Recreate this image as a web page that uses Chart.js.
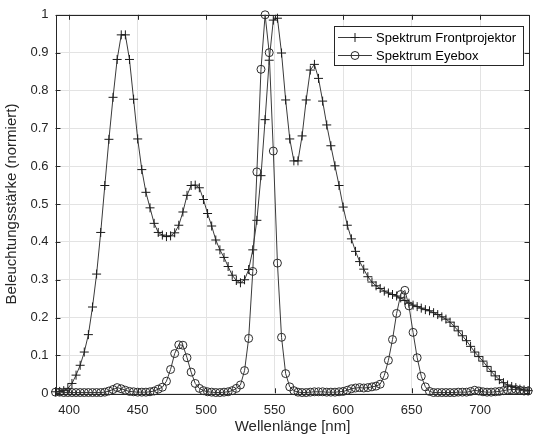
<!DOCTYPE html>
<html><head><meta charset="utf-8">
<script src="https://cdn.jsdelivr.net/npm/chart.js@4/dist/chart.umd.min.js"></script>
<style>html,body{margin:0;padding:0;background:#fff;overflow:hidden}</style>
</head><body>
<canvas id="c" width="535" height="442"></canvas>
<script>
const wavelengths = [390,393,396,399,402,405,408,411,414,417,420,423,426,429,432,435,438,441,444,447,450,453,456,459,462,465,468,471,474,477,480,483,486,489,492,495,498,501,504,507,510,513,516,519,522,525,528,531,534,537,540,543,546,549,552,555,558,561,564,567,570,573,576,579,582,585,588,591,594,597,600,603,606,609,612,615,618,621,624,627,630,633,636,639,642,645,648,651,654,657,660,663,666,669,672,675,678,681,684,687,690,693,696,699,702,705,708,711,714,717,720,723,726,729,732,735];

const frontprojektor = [
0.004,0.005,0.007,0.013,0.026,0.048,0.074,0.109,0.155,0.228,
0.315,0.425,0.549,0.671,0.782,0.882,0.947,0.947,0.882,0.777,
0.672,0.591,0.531,0.490,0.449,0.425,0.418,0.414,0.416,0.424,
0.444,0.479,0.523,0.549,0.550,0.543,0.512,0.475,0.442,0.405,
0.379,0.359,0.335,0.312,0.298,0.292,0.300,0.327,0.379,0.457,
0.575,0.723,0.880,0.986,0.991,0.899,0.775,0.672,0.614,0.614,
0.680,0.775,0.854,0.869,0.832,0.772,0.709,0.654,0.601,0.549,
0.492,0.444,0.408,0.375,0.348,0.328,0.308,0.294,0.284,0.277,
0.270,0.265,0.261,0.257,0.252,0.245,0.238,0.233,0.229,0.225,
0.221,0.218,0.213,0.208,0.202,0.196,0.188,0.177,0.165,0.152,
0.139,0.124,0.109,0.097,0.085,0.071,0.058,0.046,0.036,0.028,
0.022,0.018,0.015,0.011,0.009,0.007];

const eyebox = [
0.003,0.003,0.002,0.002,0.002,0.002,0.002,0.002,0.002,0.002,
0.002,0.002,0.003,0.006,0.010,0.015,0.012,0.008,0.005,0.004,
0.003,0.003,0.003,0.004,0.006,0.011,0.016,0.032,0.063,0.105,
0.128,0.127,0.094,0.056,0.026,0.013,0.007,0.004,0.003,0.002,
0.002,0.003,0.004,0.007,0.013,0.022,0.060,0.145,0.322,0.585,
0.856,1.000,0.900,0.640,0.344,0.148,0.052,0.017,0.007,0.003,
0.002,0.002,0.003,0.004,0.004,0.004,0.003,0.003,0.003,0.004,
0.005,0.008,0.012,0.014,0.015,0.014,0.015,0.017,0.019,0.024,
0.047,0.087,0.142,0.211,0.261,0.272,0.231,0.161,0.094,0.045,
0.017,0.005,0.002,0.002,0.002,0.002,0.002,0.002,0.003,0.003,
0.003,0.005,0.008,0.006,0.004,0.003,0.003,0.004,0.005,0.007,
0.009,0.010,0.010,0.008,0.006,0.006];

const seriesLabels = ['Spektrum Frontprojektor', 'Spektrum Eyebox'];
const xTicks = [400,450,500,550,600,650,700];
const yTicks = [0,0.1,0.2,0.3,0.4,0.5,0.6,0.7,0.8,0.9,1];
const xTitle = 'Wellenlänge [nm]';
const yTitle = 'Beleuchtungsstärke (normiert)';

const FONT = '"Liberation Sans", Arial, Helvetica, sans-serif';
const AX = '#262626';

const axesPlugin = {
  id: 'matlabAxes',
  beforeDatasetsDraw(chart) {
    const {ctx, chartArea: a, scales} = chart;
    ctx.save();
    ctx.strokeStyle = AX;
    ctx.lineWidth = 1;
    ctx.strokeRect(Math.round(a.left) + 0.5, Math.round(a.top) + 0.5,
                   Math.round(a.right - a.left) - 1, Math.round(a.bottom - a.top));
    const tl = 5;
    ctx.beginPath();
    xTicks.forEach(v => {
      const px = Math.round(scales.x.getPixelForValue(v)) + 0.5;
      ctx.moveTo(px, a.bottom); ctx.lineTo(px, a.bottom - tl);
      ctx.moveTo(px, a.top); ctx.lineTo(px, a.top + tl);
    });
    yTicks.forEach(v => {
      const py = Math.round(scales.y.getPixelForValue(v)) + 0.5;
      ctx.moveTo(a.left, py); ctx.lineTo(a.left + tl, py);
      ctx.moveTo(a.right, py); ctx.lineTo(a.right - tl, py);
    });
    ctx.stroke();
    ctx.restore();
  },
  afterDraw(chart) {
    const ctx = chart.ctx;
    const bx = 334.5, by = 26.5, bw = 189, bh = 39;
    ctx.save();
    ctx.fillStyle = '#fff';
    ctx.fillRect(bx, by, bw, bh);
    ctx.strokeStyle = AX;
    ctx.lineWidth = 1;
    ctx.strokeRect(bx, by, bw, bh);
    chart.data.datasets.forEach((ds, i) => {
      const y = 37.5 + i * 18;
      ctx.strokeStyle = ds.borderColor;
      ctx.lineWidth = 1;
      ctx.beginPath(); ctx.moveTo(338, y); ctx.lineTo(372, y); ctx.stroke();
      ctx.strokeStyle = ds.pointBorderColor;
      ctx.beginPath();
      if (ds.pointStyle === 'cross') {
        ctx.moveTo(355 - 4.5, y); ctx.lineTo(355 + 4.5, y);
        ctx.moveTo(355, y - 4.5); ctx.lineTo(355, y + 4.5);
      } else {
        ctx.arc(355, y, 4, 0, Math.PI * 2);
      }
      ctx.stroke();
      ctx.fillStyle = '#000';
      ctx.font = '13px ' + FONT;
      ctx.textBaseline = 'middle';
      ctx.textAlign = 'left';
      ctx.fillText(ds.label, 376, y + 0.5);
    });
    ctx.restore();
  }
};

const toPts = arr => wavelengths.map((w, i) => ({x: w, y: arr[i]}));

new Chart(document.getElementById('c'), {
  type: 'line',
  data: {
    datasets: [
      {
        label: seriesLabels[0], data: toPts(frontprojektor), order: 1,
        borderColor: '#3a3a3a', borderWidth: 1, tension: 0,
        pointStyle: 'cross', pointRadius: 4.5, pointBorderColor: '#1a1a1a',
        pointBorderWidth: 1, pointBackgroundColor: 'rgba(0,0,0,0)', clip: false
      },
      {
        label: seriesLabels[1], data: toPts(eyebox), order: 0,
        borderColor: '#3a3a3a', borderWidth: 1, tension: 0,
        pointStyle: 'circle', pointRadius: 4, pointBorderColor: '#2a2a2a',
        pointBorderWidth: 1, pointBackgroundColor: 'rgba(0,0,0,0)', clip: false
      }
    ]
  },
  options: {
    responsive: false, animation: false, devicePixelRatio: 1,
    layout: {padding: {top: 11, right: 1, left: 0, bottom: 0}},
    plugins: {legend: {display: false}, tooltip: {enabled: false}},
    scales: {
      x: {
        type: 'linear', min: 390, max: 736,
        afterBuildTicks: s => { s.ticks = xTicks.map(v => ({value: v})); },
        afterFit: s => { s.height = 48.7; },
        grid: {color: '#e3e3e3', drawTicks: false, lineWidth: 1},
        border: {display: false},
        ticks: {color: AX, font: {family: FONT, size: 13}, padding: 9, maxRotation: 0,
                callback: v => String(v)},
        title: {display: true, text: xTitle, color: AX, font: {family: FONT, size: 15},
                padding: {top: 0, bottom: 6}}
      },
      y: {
        type: 'linear', min: 0, max: 1,
        afterBuildTicks: s => { s.ticks = yTicks.map(v => ({value: v})); },
        afterFit: s => { s.width = 55.5; },
        grid: {color: '#e3e3e3', drawTicks: false, lineWidth: 1},
        border: {display: false},
        ticks: {color: AX, font: {family: FONT, size: 13}, padding: 7,
                callback: v => String(Number(v.toFixed(1)))},
        title: {display: true, text: yTitle, color: AX, font: {family: FONT, size: 15},
                padding: {top: 3, bottom: 0}}
      }
    }
  },
  plugins: [axesPlugin]
});
</script>
</body></html>
